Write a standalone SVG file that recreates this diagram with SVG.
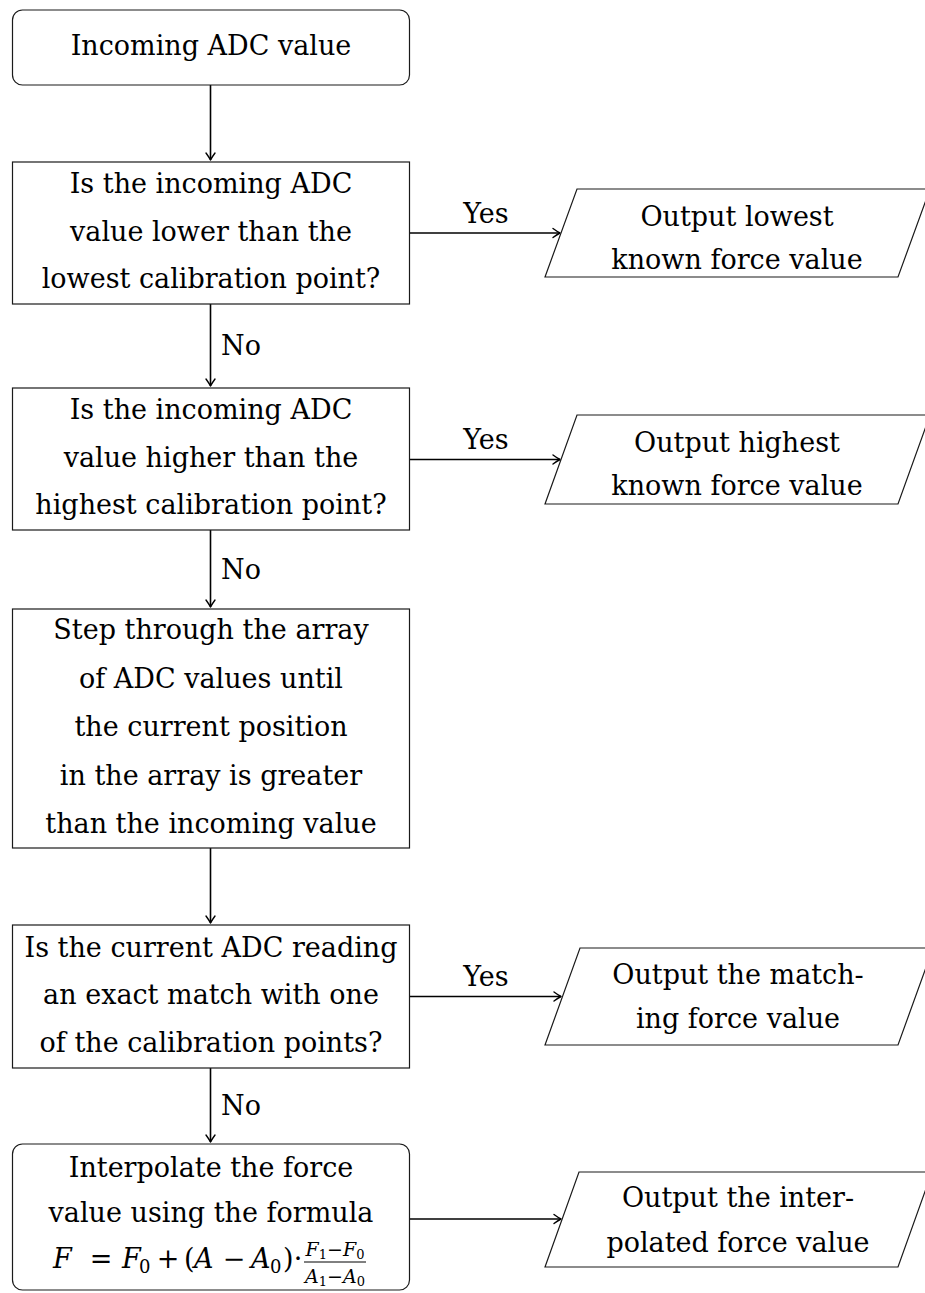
<svg xmlns="http://www.w3.org/2000/svg" width="925" height="1293" viewBox="0 0 925 1293">
  <style>
    .box { fill: #ffffff; stroke: #1a1a1a; stroke-width: 1.2; }
    .t { font-family: "DejaVu Serif", "Liberation Serif", serif; font-size: 27px; fill: #000; text-anchor: middle; }
    .lbl { font-family: "DejaVu Serif", "Liberation Serif", serif; font-size: 27px; fill: #000; }
    .m { font-family: "DejaVu Serif", "Liberation Serif", serif; font-size: 27px; fill: #000; }
    .it { font-style: italic; }
    .sub { font-size: 18px; }
    .fr { font-size: 19px; }
    .fsub { font-size: 13px; }
    .mid { text-anchor: middle; }
    .edge { fill: none; stroke: #000; stroke-width: 1.6; marker-end: url(#arr); }
  </style>
  <defs>
    <marker id="arr" markerUnits="userSpaceOnUse" viewBox="-10 -6 12 12" refX="0" refY="0" markerWidth="12" markerHeight="12" orient="auto">
      <path d="M -7 -4.5 Q -2.5 -1.2 0 0 Q -2.5 1.2 -7 4.5" fill="none" stroke="#000" stroke-width="1.4" stroke-linecap="round" stroke-linejoin="round"/>
    </marker>
  </defs>

  <rect width="925" height="1293" fill="#ffffff"/>

  <g id="connectors">
    <line class="edge" x1="210.5" y1="85" x2="210.5" y2="160"/>
    <line class="edge" x1="210.5" y1="304" x2="210.5" y2="386"/>
    <line class="edge" x1="210.5" y1="530" x2="210.5" y2="607"/>
    <line class="edge" x1="210.5" y1="848" x2="210.5" y2="923"/>
    <line class="edge" x1="210.5" y1="1068" x2="210.5" y2="1142"/>
    <line class="edge" x1="410" y1="233" x2="560" y2="233"/>
    <line class="edge" x1="410" y1="459.5" x2="560" y2="459.5"/>
    <line class="edge" x1="410" y1="996.5" x2="561" y2="996.5"/>
    <line class="edge" x1="410" y1="1219" x2="561" y2="1219"/>
    <text class="lbl" x="221" y="355">No</text>
    <text class="lbl" x="221" y="579">No</text>
    <text class="lbl" x="221" y="1115">No</text>
    <text class="t" x="486" y="223">Yes</text>
    <text class="t" x="486" y="449">Yes</text>
    <text class="t" x="486" y="986">Yes</text>
  </g>

  <g id="start">
    <rect class="box" x="12.5" y="10" width="397" height="75" rx="10"/>
    <text class="t" x="211" y="55">Incoming ADC value</text>
  </g>

  <g id="check-low">
    <rect class="box" x="12.5" y="162" width="397" height="142"/>
    <text class="t" x="211" y="193">Is the incoming ADC</text>
    <text class="t" x="211" y="240.5">value lower than the</text>
    <text class="t" x="211" y="288">lowest calibration point?</text>
  </g>

  <g id="out-low">
    <polygon class="box" points="545,277 577,189 930,189 898,277"/>
    <text class="t" x="737" y="226">Output lowest</text>
    <text class="t" x="737" y="269">known force value</text>
  </g>

  <g id="check-high">
    <rect class="box" x="12.5" y="388" width="397" height="142"/>
    <text class="t" x="211" y="419">Is the incoming ADC</text>
    <text class="t" x="211" y="466.5">value higher than the</text>
    <text class="t" x="211" y="514">highest calibration point?</text>
  </g>

  <g id="out-high">
    <polygon class="box" points="545,504 577,415 930,415 898,504"/>
    <text class="t" x="737" y="452">Output highest</text>
    <text class="t" x="737" y="495">known force value</text>
  </g>

  <g id="step">
    <rect class="box" x="12.5" y="609" width="397" height="239"/>
    <text class="t" x="211" y="639">Step through the array</text>
    <text class="t" x="211" y="687.5">of ADC values until</text>
    <text class="t" x="211" y="736">the current position</text>
    <text class="t" x="211" y="784.5">in the array is greater</text>
    <text class="t" x="211" y="833">than the incoming value</text>
  </g>

  <g id="check-match">
    <rect class="box" x="12.5" y="925" width="397" height="143"/>
    <text class="t" x="211" y="956.5">Is the current ADC reading</text>
    <text class="t" x="211" y="1004">an exact match with one</text>
    <text class="t" x="211" y="1051.5">of the calibration points?</text>
  </g>

  <g id="out-match">
    <polygon class="box" points="545,1045 580,948 933,948 898,1045"/>
    <text class="t" x="738" y="984">Output the match-</text>
    <text class="t" x="738" y="1028">ing force value</text>
  </g>

  <g id="interpolate">
    <rect class="box" x="12.5" y="1144" width="397" height="146" rx="10"/>
    <text class="t" x="211" y="1177">Interpolate the force</text>
    <text class="t" x="211" y="1222">value using the formula</text>
    <text class="m" y="1268"><tspan class="it" x="53">F</tspan><tspan class="mid" x="101">=</tspan><tspan class="it" x="122">F</tspan><tspan class="sub" x="139" dy="5">0</tspan><tspan class="mid" x="168" dy="-5">+</tspan><tspan x="184">(</tspan><tspan class="it" x="194">A</tspan><tspan class="mid" x="234">−</tspan><tspan class="it" x="251">A</tspan><tspan class="sub" x="270" dy="5">0</tspan><tspan x="283" dy="-5">)</tspan><tspan class="mid" x="298">·</tspan></text>
    <text class="m fr mid" x="335" y="1256"><tspan class="it">F</tspan><tspan class="fsub" dy="3">1</tspan><tspan dy="-3">−</tspan><tspan class="it">F</tspan><tspan class="fsub" dy="3">0</tspan></text>
    <line x1="304" y1="1262" x2="366" y2="1262" stroke="#000" stroke-width="1"/>
    <text class="m fr mid" x="335" y="1283"><tspan class="it">A</tspan><tspan class="fsub" dy="3">1</tspan><tspan dy="-3">−</tspan><tspan class="it">A</tspan><tspan class="fsub" dy="3">0</tspan></text>
  </g>

  <g id="out-interp">
    <polygon class="box" points="545,1267 579,1172 932,1172 898,1267"/>
    <text class="t" x="738" y="1207">Output the inter-</text>
    <text class="t" x="738" y="1252">polated force value</text>
  </g>
</svg>
